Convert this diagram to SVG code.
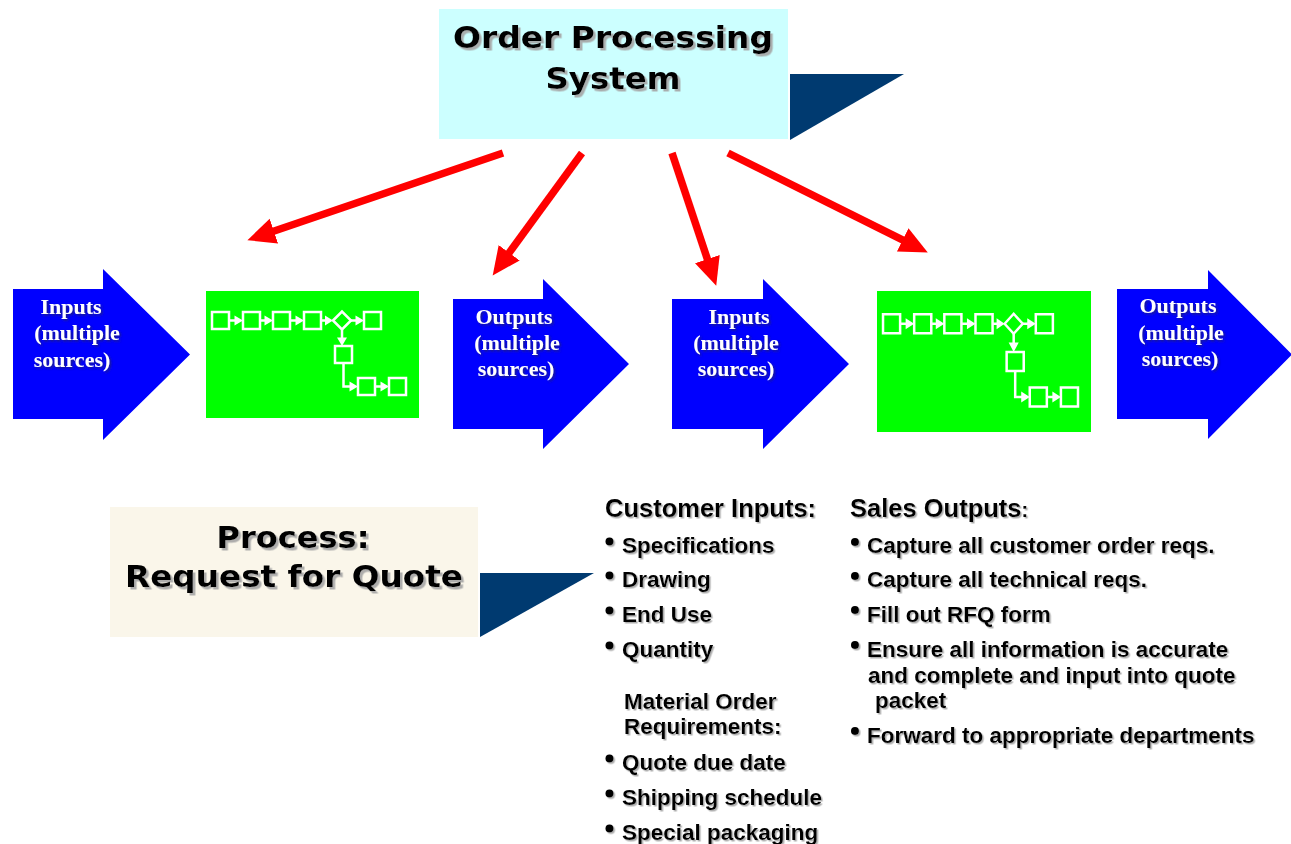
<svg xmlns="http://www.w3.org/2000/svg" xmlns:xlink="http://www.w3.org/1999/xlink" width="1291" height="844" viewBox="0 0 1291 844">
  <style>
    .title { font-family: "DejaVu Sans", Verdana, sans-serif; font-weight: bold; font-size: 30px; fill: #000; text-anchor: middle; filter: url(#shadowDark); }
    .arrowtxt { font-family: "Liberation Serif", "Times New Roman", serif; font-weight: bold; font-size: 22px; fill: #fff; text-anchor: middle; filter: url(#shadowLight); }
    .head { font-family: "Liberation Sans", Arial, sans-serif; font-weight: bold; font-size: 25.5px; fill: #000; filter: url(#shadowSoft); }
    .item { font-family: "Liberation Sans", Arial, sans-serif; font-weight: bold; font-size: 22.5px; fill: #000; filter: url(#shadowSoft); }
    .bullet { fill: #000; filter: url(#shadowSoft); }
    .blockarrow { fill: #0000ff; }
    .procbox { fill: #00ff00; }
    .flowline { fill: none; stroke: #fff; stroke-width: 2.5; vector-effect: non-scaling-stroke; }
    .flowhead { fill: #fff; }
    .redline { fill: none; stroke: #ff0000; stroke-width: 7.5; marker-end: url(#redHead); }
    .tab { fill: #003a70; }
  </style>
  <defs>
    <filter id="shadowDark" x="-10%" y="-30%" width="130%" height="170%">
      <feDropShadow dx="2.5" dy="2.5" stdDeviation="0.6" flood-color="#a6a6a6" flood-opacity="0.9"/>
    </filter>
    <filter id="shadowSoft" x="-10%" y="-30%" width="130%" height="170%">
      <feDropShadow dx="1.5" dy="1.5" stdDeviation="0.7" flood-color="#a0a0a0" flood-opacity="0.85"/>
    </filter>
    <filter id="shadowLight" x="-10%" y="-30%" width="130%" height="170%">
      <feDropShadow dx="1.5" dy="1.5" stdDeviation="0.8" flood-color="#333" flood-opacity="0.6"/>
    </filter>
    <marker id="redHead" markerUnits="userSpaceOnUse" markerWidth="32" markerHeight="28" refX="2" refY="13" orient="auto">
      <path d="M0,0 L28,13 L0,26 Z" fill="#ff0000"/>
    </marker>
    <!-- small white flowchart drawn inside each process block -->
    <g id="flow">
      <rect class="flowline" x="6" y="21" width="17" height="17"/>
      <rect class="flowline" x="37" y="21" width="17" height="17"/>
      <rect class="flowline" x="67" y="21" width="17" height="17"/>
      <rect class="flowline" x="98" y="21" width="17" height="17"/>
      <path class="flowline" d="M127,29.5 L136,20.5 L145,29.5 L136,38.5 Z"/>
      <rect class="flowline" x="158" y="21" width="17" height="17"/>
      <rect class="flowline" x="129" y="55" width="17" height="17"/>
      <rect class="flowline" x="152" y="87" width="17" height="17"/>
      <rect class="flowline" x="183" y="87" width="17" height="17"/>
      <path class="flowline" d="M23,29.5 H30 M54,29.5 H60 M84,29.5 H91 M115,29.5 H120 M145,29.5 H151 M136,38.5 V48 M137.5,72 V95.5 H145 M169,95.5 H176"/>
      <path class="flowhead" d="M28.5,24.5 L37,29.5 L28.5,34.5 Z M58.5,24.5 L67,29.5 L58.5,34.5 Z M89.5,24.5 L98,29.5 L89.5,34.5 Z M119,24.5 L127,29.5 L119,34.5 Z M149.5,24.5 L158,29.5 L149.5,34.5 Z M131,46.5 L141,46.5 L136,55 Z M143.5,90.5 L152,95.5 L143.5,100.5 Z M174.5,90.5 L183,95.5 L174.5,100.5 Z"/>
    </g>
  </defs>

  <rect width="1291" height="844" fill="#fff"/>

  <!-- system title -->
  <g id="order-processing-system">
    <rect x="439" y="9" width="349" height="130" fill="#ccffff"/>
    <polygon class="tab" points="790,74 904,74 790,140"/>
    <text class="title" x="613" y="48" textLength="320" lengthAdjust="spacingAndGlyphs">Order Processing</text>
    <text class="title" x="613" y="89" textLength="135" lengthAdjust="spacingAndGlyphs">System</text>
  </g>

  <!-- process chain -->
  <g id="inputs-1">
    <path class="blockarrow" d="M13,289 H103 V269 L190,354.5 L103,440 V419 H13 Z"/>
    <text class="arrowtxt" x="71" y="314">Inputs</text>
    <text class="arrowtxt" x="77" y="340">(multiple</text>
    <text class="arrowtxt" x="72" y="367">sources)</text>
  </g>

  <g id="process-1">
    <rect class="procbox" x="206" y="291" width="213" height="127"/>
    <use xlink:href="#flow" href="#flow" transform="translate(206,291)"/>
  </g>

  <g id="outputs-1">
    <path class="blockarrow" d="M453,299 H543 V279 L629,364 L543,449 V429 H453 Z"/>
    <text class="arrowtxt" x="514" y="324">Outputs</text>
    <text class="arrowtxt" x="517" y="350">(multiple</text>
    <text class="arrowtxt" x="516" y="376">sources)</text>
  </g>

  <g id="inputs-2">
    <path class="blockarrow" d="M672,299 H763 V279 L849,364 L763,449 V429 H672 Z"/>
    <text class="arrowtxt" x="739" y="324">Inputs</text>
    <text class="arrowtxt" x="736" y="350">(multiple</text>
    <text class="arrowtxt" x="736" y="376">sources)</text>
  </g>

  <g id="process-2">
    <rect class="procbox" x="877" y="291" width="214" height="141"/>
    <use xlink:href="#flow" href="#flow" transform="translate(877,291) scale(1.005,1.11)"/>
  </g>

  <g id="outputs-2">
    <path class="blockarrow" d="M1117,289 H1208 V270 L1292,354.5 L1208,439 V419 H1117 Z"/>
    <text class="arrowtxt" x="1178" y="313">Outputs</text>
    <text class="arrowtxt" x="1181" y="340">(multiple</text>
    <text class="arrowtxt" x="1180" y="366">sources)</text>
  </g>

  <!-- red connectors from the system box to each stage -->
  <g id="connectors">
    <line class="redline" x1="503" y1="153" x2="272" y2="231.8"/>
    <line class="redline" x1="582" y1="153" x2="508" y2="254.4"/>
    <line class="redline" x1="672" y1="153" x2="708" y2="261"/>
    <line class="redline" x1="728" y1="153" x2="904.5" y2="240.8"/>
  </g>

  <!-- process label -->
  <g id="process-label">
    <rect x="110" y="507" width="368" height="130" fill="#faf6ea"/>
    <polygon class="tab" points="480,573 594,573 480,637"/>
    <text class="title" x="293" y="548" textLength="153" lengthAdjust="spacingAndGlyphs">Process:</text>
    <text class="title" x="294" y="587" textLength="338" lengthAdjust="spacingAndGlyphs">Request for Quote</text>
  </g>

  <!-- customer inputs list -->
  <g id="customer-inputs">
    <text class="head" x="605" y="517">Customer Inputs:</text>
    <circle class="bullet" cx="609.5" cy="541.5" r="4"/>
    <text class="item" x="622" y="553">Specifications</text>
    <circle class="bullet" cx="609.5" cy="575.5" r="4"/>
    <text class="item" x="622" y="587">Drawing</text>
    <circle class="bullet" cx="609.5" cy="610.5" r="4"/>
    <text class="item" x="622" y="622">End Use</text>
    <circle class="bullet" cx="609.5" cy="645.5" r="4"/>
    <text class="item" x="622" y="657">Quantity</text>
    <text class="item" x="624" y="709">Material Order</text>
    <text class="item" x="624" y="734">Requirements:</text>
    <circle class="bullet" cx="609.5" cy="758.5" r="4"/>
    <text class="item" x="622" y="770">Quote due date</text>
    <circle class="bullet" cx="609.5" cy="793.5" r="4"/>
    <text class="item" x="622" y="805">Shipping schedule</text>
    <circle class="bullet" cx="609.5" cy="828.5" r="4"/>
    <text class="item" x="622" y="840">Special packaging</text>
  </g>

  <!-- sales outputs list -->
  <g id="sales-outputs">
    <text class="head" x="850" y="517">Sales Outputs<tspan font-size="20px">:</tspan></text>
    <circle class="bullet" cx="855" cy="542" r="4"/>
    <text class="item" x="867" y="553">Capture all customer order reqs.</text>
    <circle class="bullet" cx="855" cy="576" r="4"/>
    <text class="item" x="867" y="587">Capture all technical reqs.</text>
    <circle class="bullet" cx="855" cy="610" r="4"/>
    <text class="item" x="867" y="622">Fill out RFQ form</text>
    <circle class="bullet" cx="855" cy="645" r="4"/>
    <text class="item" x="867" y="657">Ensure all information is accurate</text>
    <text class="item" x="868" y="683">and complete and input into quote</text>
    <text class="item" x="875" y="708">packet</text>
    <circle class="bullet" cx="855" cy="731" r="4"/>
    <text class="item" x="867" y="743">Forward to appropriate departments</text>
  </g>
</svg>
